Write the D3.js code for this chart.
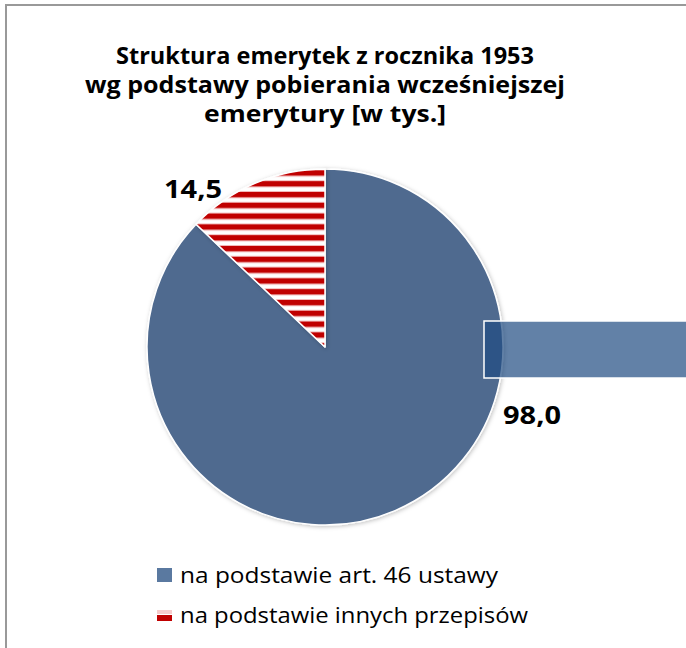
<!DOCTYPE html>
<html>
<head>
<meta charset="utf-8">
<script src="https://cdn.jsdelivr.net/npm/d3@7/dist/d3.min.js"></script>
<style>
  body { margin: 0; background: #fff; }
  svg { display: block; font-family: "Open Sans", "Lato", sans-serif; }
</style>
</head>
<body>
<div id="chart"></div>
<script>
// Chart data
var categories = ["na podstawie art. 46 ustawy", "na podstawie innych przepisów"];
var values = [98.0, 14.5];
var valueLabels = ["98,0", "14,5"];
var titleLines = ["Struktura emerytek z rocznika 1953", "wg podstawy pobierania wcześniejszej", "emerytury [w tys.]"];

var width = 686;
var height = 648;
var cx = 325;
var cy = 347;
var radius = 178;
var blue = "#4f6a8f";
var red = "#c00000";

var svg = d3.select("#chart")
  .append("svg")
  .attr("width", width)
  .attr("height", height);

var defs = svg.append("defs");

// horizontal red / white stripes used by the second slice
var stripes = defs.append("pattern")
  .attr("id", "stripes")
  .attr("patternUnits", "userSpaceOnUse")
  .attr("x", 0)
  .attr("y", 168)
  .attr("width", 10)
  .attr("height", 10.8);
stripes.append("rect").attr("width", 10).attr("height", 10.8).attr("fill", "#fff");
stripes.append("rect").attr("y", 0).attr("width", 10).attr("height", 7.2).attr("fill", "#f2b9b9");
stripes.append("rect").attr("y", 1).attr("width", 10).attr("height", 5.2).attr("fill", red);

var shadow = defs.append("filter").attr("id", "shadow")
  .attr("x", "-10%").attr("y", "-10%").attr("width", "120%").attr("height", "120%");
shadow.append("feDropShadow")
  .attr("dx", 1).attr("dy", 1).attr("stdDeviation", 2)
  .attr("flood-color", "#000").attr("flood-opacity", 0.25);

// Outer frame (only the top and left edges are visible)
svg.append("path")
  .attr("d", "M6," + height + "V5H" + width)
  .attr("fill", "none")
  .attr("stroke", "#999")
  .attr("stroke-width", 2);

// Title (widths matched to the reference with textLength)
var titleWidths = [418, 480, 242];
svg.append("text")
  .attr("text-anchor", "middle")
  .attr("font-weight", "bold")
  .attr("font-size", 23)
  .attr("fill", "#000")
  .selectAll("tspan")
  .data(titleLines)
  .enter()
  .append("tspan")
  .attr("x", 325)
  .attr("y", function(d, i) { return 64 + i * 29; })
  .attr("textLength", function(d, i) { return titleWidths[i]; })
  .attr("lengthAdjust", "spacingAndGlyphs")
  .text(function(d) { return d; });

// Pie
var pie = d3.pie().sort(null).value(function(d) { return d; });
var arc = d3.arc().innerRadius(0).outerRadius(radius);
var fills = [blue, "url(#stripes)"];

var g = svg.append("g")
  .attr("transform", "translate(" + cx + "," + cy + ")");

g.selectAll("path.slice")
  .data(pie(values))
  .enter()
  .append("path")
  .attr("class", "slice")
  .attr("d", arc)
  .attr("fill", function(d, i) { return fills[i]; })
  .attr("stroke", "#fff")
  .attr("stroke-width", 1.5)
  .attr("stroke-linejoin", "round")
  .attr("filter", "url(#shadow)");

// Data labels
var labelPos = [[532, 424], [193, 198]];
svg.selectAll("text.val")
  .data(valueLabels)
  .enter()
  .append("text")
  .attr("class", "val")
  .attr("x", function(d, i) { return labelPos[i][0]; })
  .attr("y", function(d, i) { return labelPos[i][1]; })
  .attr("text-anchor", "middle")
  .attr("font-weight", "bold")
  .attr("font-size", 25)
  .attr("textLength", 58)
  .attr("lengthAdjust", "spacingAndGlyphs")
  .attr("fill", "#000")
  .text(function(d) { return d; });

// Semi-transparent bar on the right side
svg.append("rect")
  .attr("x", 484)
  .attr("y", 321)
  .attr("width", 220)
  .attr("height", 57)
  .attr("fill", "#204c81")
  .attr("fill-opacity", 0.7)
  .attr("stroke", "#fff")
  .attr("stroke-width", 1.5);

// Legend
var legendWidths = [318, 348];
var legend = svg.selectAll("g.legend")
  .data(categories)
  .enter()
  .append("g")
  .attr("class", "legend")
  .attr("transform", function(d, i) { return "translate(157," + (568 + i * 40) + ")"; });

legend.filter(function(d, i) { return i === 0; })
  .append("rect")
  .attr("width", 15)
  .attr("height", 14)
  .attr("fill", "#5a79a0");

var striped = legend.filter(function(d, i) { return i === 1; });
striped.append("rect").attr("y", 2).attr("width", 15).attr("height", 4).attr("fill", "#f6cccc");
striped.append("rect").attr("y", 7).attr("width", 15).attr("height", 6).attr("fill", red);

legend.append("text")
  .attr("x", 23)
  .attr("y", 15)
  .attr("font-size", 21.5)
  .attr("fill", "#000")
  .attr("textLength", function(d, i) { return legendWidths[i]; })
  .attr("lengthAdjust", "spacingAndGlyphs")
  .text(function(d) { return d; });
</script>
</body>
</html>
